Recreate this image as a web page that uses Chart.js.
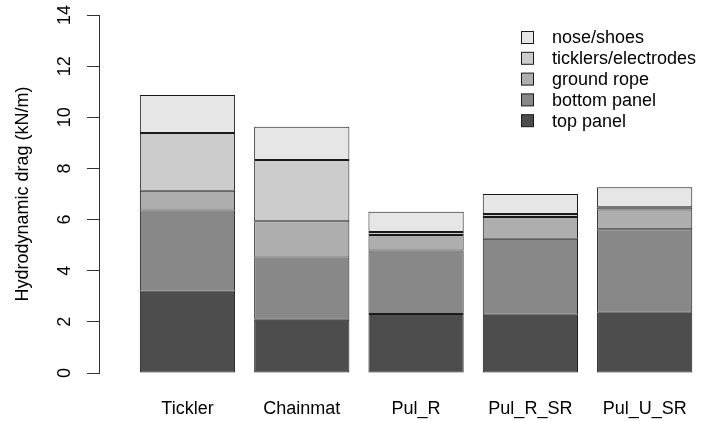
<!DOCTYPE html>
<html>
<head>
<meta charset="utf-8">
<script src="https://cdn.jsdelivr.net/npm/chart.js@4.4.1/dist/chart.umd.min.js"></script>
<style>
  html, body { margin: 0; padding: 0; background: #fff; }
  canvas { display: block; }
</style>
</head>
<body>
<canvas id="drag" width="705" height="421"></canvas>
<script>
// gear types along the x axis
var gears = ["Tickler", "Chainmat", "Pul_R", "Pul_R_SR", "Pul_U_SR"];

// drag per component, kN/m (stacked bottom to top)
var topPanel    = [3.23, 2.08, 2.31, 2.28, 2.36];
var bottomPanel = [3.12, 2.44, 2.48, 2.97, 3.26];
var groundRope  = [0.78, 1.41, 0.61, 0.85, 0.77];
var ticklers    = [2.26, 2.40, 0.11, 0.12, 0.09];
var noseShoes   = [1.48, 1.30, 0.80, 0.78, 0.78];

var yTicks = [0, 2, 4, 6, 8, 10, 12, 14];

var FONT = "'Liberation Sans', Arial, sans-serif";

function series(label, values, colour) {
  return {
    label: label,
    data: values.map(function (v, i) { return { x: i, y: v }; }),
    backgroundColor: colour,
    borderColor: "#1a1a1a",
    borderWidth: 1,
    borderSkipped: false,
    categoryPercentage: 1,
    barPercentage: 0.833
  };
}

// R style legend in the top right corner
var boxLegend = {
  id: "boxLegend",
  afterDraw: function (chart) {
    var ctx = chart.ctx;
    var sets = chart.data.datasets.slice().reverse();
    ctx.save();
    ctx.font = "18px " + FONT;
    ctx.textBaseline = "middle";
    ctx.textAlign = "left";
    sets.forEach(function (ds, i) {
      var cy = 37.5 + i * 20.8;
      ctx.fillStyle = ds.backgroundColor;
      ctx.fillRect(521.5, cy - 6, 12, 12);
      ctx.strokeStyle = "#1a1a1a";
      ctx.lineWidth = 1;
      ctx.strokeRect(521.5, cy - 6, 12, 12);
      ctx.fillStyle = "#000";
      ctx.fillText(ds.label, 552, cy + 1);
    });
    ctx.restore();
  }
};

new Chart(document.getElementById("drag"), {
  type: "bar",
  data: {
    datasets: [
      series("top panel", topPanel, "#4d4d4d"),
      series("bottom panel", bottomPanel, "#888888"),
      series("ground rope", groundRope, "#aeaeae"),
      series("ticklers/electrodes", ticklers, "#cccccc"),
      series("nose/shoes", noseShoes, "#e6e6e6")
    ]
  },
  options: {
    responsive: false,
    animation: false,
    layout: { padding: { top: 15, right: 5, left: 0, bottom: 0 } },
    plugins: {
      legend: { display: false },
      tooltip: { enabled: false }
    },
    scales: {
      x: {
        type: "linear",
        stacked: true,
        min: -0.774,
        max: 4.484,
        offset: false,
        grid: { display: false, drawTicks: false },
        border: { display: false },
        afterBuildTicks: function (scale) {
          scale.ticks = gears.map(function (g, i) { return { value: i }; });
        },
        afterFit: function (scale) {
          scale.height = 48;
          scale.paddingLeft = 0;
          scale.paddingRight = 0;
        },
        ticks: {
          autoSkip: false,
          maxRotation: 0,
          padding: 25,
          color: "#000",
          font: { family: FONT, size: 18 },
          callback: function (v) { return gears[v]; }
        }
      },
      y: {
        stacked: true,
        min: 0,
        max: 14,
        afterBuildTicks: function (scale) {
          scale.ticks = yTicks.map(function (t) { return { value: t }; });
        },
        afterFit: function (scale) {
          scale.width = 99;
          scale.paddingTop = 0;
          scale.paddingBottom = 0;
        },
        grid: {
          drawOnChartArea: false,
          drawTicks: true,
          tickLength: 12,
          color: "#333"
        },
        border: { display: true, color: "#333", width: 1 },
        ticks: {
          minRotation: 90,
          maxRotation: 90,
          crossAlign: "center",
          padding: 12,
          color: "#000",
          font: { family: FONT, size: 18 }
        },
        title: {
          display: true,
          text: "Hydrodynamic drag (kN/m)",
          color: "#000",
          font: { family: FONT, size: 18 },
          padding: { top: 12, bottom: 0 }
        }
      }
    }
  },
  plugins: [boxLegend]
});
</script>
</body>
</html>
